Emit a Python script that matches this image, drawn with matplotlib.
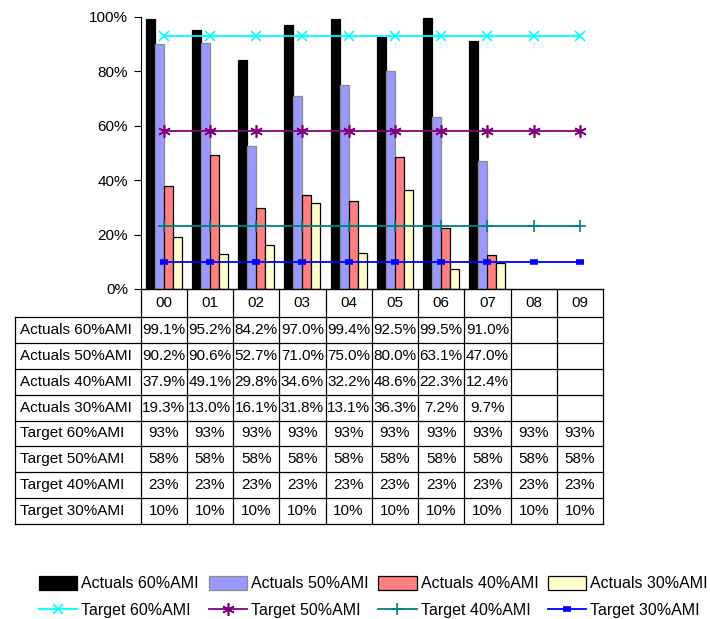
import matplotlib
matplotlib.use("Agg")
import matplotlib.pyplot as plt
import matplotlib.transforms as mtransforms
import numpy as np

plt.rcParams['font.family'] = ['Liberation Sans', 'DejaVu Sans']

years = ['00', '01', '02', '03', '04', '05', '06', '07', '08', '09']

# actual share of units by income band (only 00-07 reported)
actual_60 = [99.1, 95.2, 84.2, 97.0, 99.4, 92.5, 99.5, 91.0]
actual_50 = [90.2, 90.6, 52.7, 71.0, 75.0, 80.0, 63.1, 47.0]
actual_40 = [37.9, 49.1, 29.8, 34.6, 32.2, 48.6, 22.3, 12.4]
actual_30 = [19.3, 13.0, 16.1, 31.8, 13.1, 36.3, 7.2, 9.7]

# targets, same every year
target_60 = [93] * 10
target_50 = [58] * 10
target_40 = [23] * 10
target_30 = [10] * 10

actual_names = ['Actuals 60%AMI', 'Actuals 50%AMI', 'Actuals 40%AMI', 'Actuals 30%AMI']
target_names = ['Target 60%AMI', 'Target 50%AMI', 'Target 40%AMI', 'Target 30%AMI']

W, H = 710, 619
fig = plt.figure(figsize=(W / 100, H / 100), dpi=100)

# plot area in pixels
px_left, px_right, px_top, px_bottom = 140.5, 603, 17, 289
ax = fig.add_axes([px_left / W, 1 - px_bottom / H,
                   (px_right - px_left) / W, (px_bottom - px_top) / H])

x = np.arange(len(years))
bw = 0.195
bar_style = [
    dict(color='black', edgecolor='black'),
    dict(color='#9999FF', edgecolor='#8c8c8c'),
    dict(color='#FF8080', edgecolor='black'),
    dict(color='#FFFFCC', edgecolor='black'),
]
actuals = [actual_60, actual_50, actual_40, actual_30]
bar_handles = []
for i, (vals, st, name) in enumerate(zip(actuals, bar_style, actual_names)):
    n = len(vals)
    b = ax.bar(x[:n] + (i - 1.5) * bw, np.array(vals) / 100, width=bw,
               linewidth=0.9, label=name, zorder=2, **st)
    bar_handles.append(b)

line_style = [
    dict(color='#00FFFF', marker='x', markersize=7, mew=1.2),
    dict(color='#800080', marker=(6, 2, 0), markersize=9, mew=1.2),
    dict(color='#008080', marker='+', markersize=8, mew=1.2),
    dict(color='#0000FF', marker='_', markersize=6, mew=4),
]
targets = [target_60, target_50, target_40, target_30]
line_handles = []
for vals, st, name in zip(targets, line_style, target_names):
    ln, = ax.plot(x, np.array(vals) / 100, linewidth=1.3, label=name, zorder=3, **st)
    line_handles.append(ln)

ax.set_xlim(-0.5, len(years) - 0.5)
ax.set_ylim(0, 1)
ax.set_yticks(np.arange(0, 1.01, 0.2))
ax.set_yticklabels([f'{int(round(v * 100))}%' for v in np.arange(0, 1.01, 0.2)])
ax.set_xticks([])
ax.tick_params(axis='y', direction='out', length=5, width=0.8, labelsize=11, pad=4)
for s in ['top', 'right']:
    ax.spines[s].set_visible(False)
ax.spines['left'].set_linewidth(0.8)
ax.spines['bottom'].set_linewidth(1.0)

# data table under the plot: x in category units, y in figure fraction
trans = mtransforms.blended_transform_factory(ax.transData, fig.transFigure)
col_w_px = (px_right - px_left) / len(years)
label_left = -0.5 - (px_left - 15) / col_w_px
label_text_x = -0.5 - (px_left - 20) / col_w_px

def fy(py):
    return 1 - py / H

header_top, header_bot = px_bottom, 317
row_h = (524 - header_bot) / 8
row_edges = [header_bot + k * row_h for k in range(9)]

kw = dict(transform=trans, clip_on=False, color='black', linewidth=0.9)
# column separators
for k in range(len(years) + 1):
    ax.plot([k - 0.5, k - 0.5], [fy(header_top), fy(row_edges[-1])], **kw)
ax.plot([label_left, label_left], [fy(row_edges[0]), fy(row_edges[-1])], **kw)
for yy in row_edges:
    ax.plot([label_left, len(years) - 0.5], [fy(yy), fy(yy)], **kw)

tfs = 11
for k, yr in enumerate(years):
    ax.text(k, fy((header_top + header_bot) / 2), yr, transform=trans,
            ha='center', va='center', fontsize=tfs)

row_labels = actual_names + target_names
row_cells = []
for vals in actuals:
    row_cells.append([f'{v:.1f}%' for v in vals] + [''] * (len(years) - len(vals)))
for vals in targets:
    row_cells.append([f'{v}%' for v in vals])

for r, (lab, cells) in enumerate(zip(row_labels, row_cells)):
    yc = fy((row_edges[r] + row_edges[r + 1]) / 2)
    ax.text(label_text_x, yc, lab, transform=trans, ha='left', va='center', fontsize=tfs)
    for k, c in enumerate(cells):
        ax.text(k, yc, c, transform=trans, ha='center', va='center', fontsize=tfs)

# legend: bars on first row, target lines on second
handles, labels = [], []
for b, ln, an, tn in zip(bar_handles, line_handles, actual_names, target_names):
    handles += [b, ln]
    labels += [an, tn]
fig.legend(handles, labels, ncol=4, loc='center', bbox_to_anchor=(0.526, fy(597)),
           frameon=False, fontsize=11.5, handlelength=2.4, handleheight=0.9,
           columnspacing=0.6, handletextpad=0.25, labelspacing=0.7, borderpad=0)

fig.savefig('out.png', dpi=100)
